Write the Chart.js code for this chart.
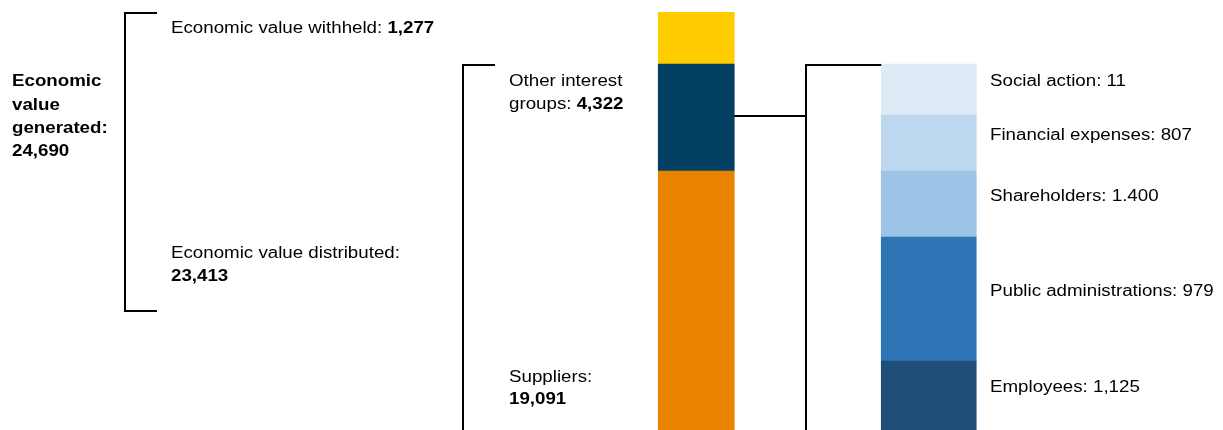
<!DOCTYPE html>
<html>
<head>
<meta charset="utf-8">
<script src="https://cdn.jsdelivr.net/npm/chart.js@4.4.1/dist/chart.umd.min.js"></script>
<style>
  body { margin: 0; background: #fff; }
  #wrap { width: 1223px; height: 430px; position: relative; }
</style>
</head>
<body>
<div id="wrap"><canvas id="valueChart"></canvas></div>
<script>
// two columns: value generated split, and the split of "other interest groups"
const categories = ['Economic value generated', 'Other interest groups'];

// left column, bottom to top
const leftSeries = ['Suppliers', 'Other interest groups', 'Economic value withheld'];
const leftValues = [19091, 4322, 1277];
const leftHeights = [259, 107, 52]; // segment heights as drawn (schematic, not to scale)
const leftColors = ['#E98300', '#044064', '#FFCC00'];

// right column, bottom to top
const rightSeries = ['Employees', 'Public administrations', 'Shareholders', 'Financial expenses', 'Social action'];
const rightValueLabels = ['1,125', '979', '1.400', '807', '11'];
const rightHeights = [69, 124, 66, 56, 51];
const rightColors = ['#1F4E79', '#2E75B6', '#9DC3E6', '#BDD7EE', '#DEEBF7'];

const totalGenerated = 24690;
const distributed = 23413;

const FONT = '"Liberation Sans", Arial, sans-serif';
const FONT_SIZE = 16;
const STRETCH = 1.17;

function fmt(n) {
  return n.toLocaleString('en-US');
}

// draws a line of text made of normal/bold runs, stretched wide like the original
function drawRuns(ctx, x, y, runs) {
  ctx.save();
  ctx.translate(x, y);
  ctx.scale(STRETCH, 1);
  ctx.fillStyle = '#000';
  ctx.textBaseline = 'middle';
  ctx.textAlign = 'left';
  let cx = 0;
  runs.forEach(([txt, bold]) => {
    ctx.font = (bold ? 'bold ' : '') + FONT_SIZE + 'px ' + FONT;
    ctx.fillText(txt, cx, 0);
    cx += ctx.measureText(txt).width;
  });
  ctx.restore();
}

function line(ctx, pts) {
  ctx.beginPath();
  ctx.moveTo(pts[0][0], pts[0][1]);
  for (let i = 1; i < pts.length; i++) ctx.lineTo(pts[i][0], pts[i][1]);
  ctx.stroke();
}

const annotations = {
  id: 'annotations',
  afterDraw(chart) {
    const ctx = chart.ctx;
    const bottom = chart.height;
    const navy = chart.getDatasetMeta(1).data[0];
    const rightTop = chart.getDatasetMeta(leftSeries.length + rightSeries.length - 1).data[1];
    const rightLeft = rightTop.x - rightTop.width / 2;
    const bracketX = Math.round(rightLeft - 75);

    ctx.save();
    ctx.strokeStyle = '#000';
    ctx.lineWidth = 2;
    // outer bracket
    line(ctx, [[157, 13], [125, 13], [125, 311], [157, 311]]);
    // bracket for distributed value
    line(ctx, [[495, 65], [463, 65], [463, bottom + 2]]);
    // connector from other interest groups to its breakdown
    const navyMid = (navy.y + navy.base) / 2 - 1.5;
    line(ctx, [[navy.x + navy.width / 2, navyMid], [bracketX, navyMid]]);
    line(ctx, [[rightLeft, rightTop.y + 1], [bracketX, rightTop.y + 1], [bracketX, bottom + 2]]);
    ctx.restore();

    // left labels
    ['Economic', 'value', 'generated:', fmt(totalGenerated)].forEach((t, i) => {
      drawRuns(ctx, 12, 82 + i * 23.3, [[t, true]]);
    });
    drawRuns(ctx, 171, 29, [['Economic value withheld: ', false], [fmt(leftValues[2]), true]]);
    drawRuns(ctx, 171, 254, [['Economic value distributed:', false]]);
    drawRuns(ctx, 171, 277, [[fmt(distributed), true]]);
    drawRuns(ctx, 509, 82, [['Other interest', false]]);
    drawRuns(ctx, 509, 105, [['groups: ', false], [fmt(leftValues[1]), true]]);
    drawRuns(ctx, 509, 378, [['Suppliers:', false]]);
    drawRuns(ctx, 509, 400, [[fmt(leftValues[0]), true]]);

    // right labels next to each segment
    rightSeries.forEach((name, i) => {
      const el = chart.getDatasetMeta(leftSeries.length + i).data[1];
      const mid = (el.y + el.base) / 2 - 7.5;
      drawRuns(ctx, 990, mid, [[name + ': ' + rightValueLabels[i], false]]);
    });
  }
};

const datasets = [];
leftSeries.forEach((name, i) => {
  datasets.push({
    label: name,
    data: [leftHeights[i], null],
    backgroundColor: leftColors[i],
    barThickness: 76,
    borderWidth: 0
  });
});
rightSeries.forEach((name, i) => {
  datasets.push({
    label: name,
    data: [null, rightHeights[i]],
    backgroundColor: rightColors[i],
    barThickness: 95,
    borderWidth: 0
  });
});

const ctx = document.getElementById('valueChart').getContext('2d');
const valueChart = new Chart(ctx, {
  type: 'bar',
  data: { labels: categories, datasets: datasets },
  options: {
    responsive: true,
    maintainAspectRatio: false,
    animation: false,
    layout: { padding: { left: 580, right: 178, top: 12, bottom: 0 } },
    scales: {
      x: { stacked: true, display: false },
      y: { stacked: true, display: false, min: 0, max: 418 }
    },
    plugins: {
      legend: { display: false },
      tooltip: { enabled: false }
    }
  },
  plugins: [annotations]
});
</script>
</body>
</html>
